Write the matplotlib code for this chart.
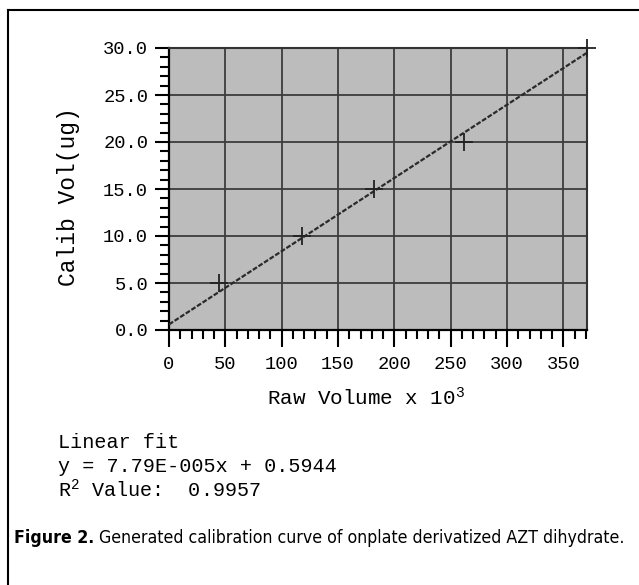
import matplotlib
matplotlib.use("Agg")
import matplotlib.pyplot as plt
from matplotlib.ticker import MultipleLocator, FormatStrFormatter
from matplotlib import font_manager as fm

# calibration standards (raw volume in thousands, calibrated ug)
raw_vol = [44, 118, 182, 262, 371]
calib_vol = [5, 10, 15, 20, 30]

# linear fit as printed on the chart (slope per raw unit)
fit_slope = 7.79e-5
fit_intercept = 0.5944
fit_x = [0, 371]
fit_r2 = 0.9957

x_ticks = [0, 50, 100, 150, 200, 250, 300, 350]
y_ticks = [0, 5, 10, 15, 20, 25, 30]

W, H = 639, 585
plt.rcParams["font.family"] = ["Liberation Mono", "DejaVu Sans Mono"]
plt.rcParams["mathtext.default"] = "regular"

fig = plt.figure(figsize=(W / 100, H / 100), dpi=100)


def fx(px):
    return px / W


def fy(py):
    return 1 - py / H


ax = fig.add_axes([fx(169), fy(330), fx(587) - fx(169), fy(48) - fy(330)])
ax.set_facecolor("#bcbcbc")

fit_y = [fit_slope * 1000 * x + fit_intercept for x in fit_x]
ax.plot(fit_x, fit_y, color="#2a2a2a", linewidth=1.6, linestyle=(0, (2.2, 0.8)), zorder=3)
ax.plot(raw_vol, calib_vol, linestyle="none", marker="+", markersize=13,
        markeredgewidth=1.3, color="#222222", clip_on=False, zorder=4)

ax.set_xlim(0, 371)
ax.set_ylim(0, 30)
ax.set_xticks(x_ticks)
ax.set_yticks(y_ticks)
ax.xaxis.set_minor_locator(MultipleLocator(10))
ax.yaxis.set_minor_locator(MultipleLocator(1))
ax.yaxis.set_major_formatter(FormatStrFormatter("%.1f"))
ax.grid(True, which="major", color="#3c3c3c", linewidth=1.3)
ax.set_axisbelow(True)

ax.tick_params(axis="x", which="major", direction="out", length=12, width=1.5,
               labelsize=13.5, pad=7, color="black")
ax.tick_params(axis="x", which="minor", direction="out", length=6.5, width=1.5, color="black")
ax.tick_params(axis="y", which="major", direction="out", length=10, width=1.5,
               labelsize=13.5, pad=5, color="black")
ax.tick_params(axis="y", which="minor", direction="out", length=6.5, width=1.5, color="black")

for side in ["left", "bottom"]:
    ax.spines[side].set_color("black")
    ax.spines[side].set_linewidth(1.6)
for side in ["top", "right"]:
    ax.spines[side].set_color("#333333")
    ax.spines[side].set_linewidth(1.5)

fig.text(fx(366), fy(398), r"Raw Volume x $\mathregular{10^3}$", fontsize=15,
         ha="center", va="center")
fig.text(fx(69), fy(197), "Calib Vol(ug)", fontsize=16.5, rotation=90,
         ha="center", va="center")

fig.text(fx(58), fy(443), "Linear fit", fontsize=14.5, ha="left", va="center")
fig.text(fx(58), fy(466), f"y = {fit_slope:.2E}x + {fit_intercept}".replace("E-05", "E-005"),
         fontsize=14.5, ha="left", va="center")
fig.text(fx(58), fy(490), r"R$^2$ Value:  " + f"{fit_r2}", fontsize=14.5,
         ha="left", va="center")

# outer frame (top and left edges only)
fig.add_artist(plt.Line2D([fx(8), 1], [fy(10), fy(10)], color="black", linewidth=1.5))
fig.add_artist(plt.Line2D([fx(8), fx(8)], [fy(10), 0], color="black", linewidth=1.5))

# caption in a condensed sans
names = {f.name for f in fm.fontManager.ttflist}
if "Liberation Sans Narrow" in names:
    cap_font, cap_stretch = "Liberation Sans Narrow", "normal"
else:
    cap_font, cap_stretch = "DejaVu Sans", "condensed"
cap_size = 13
renderer = fig.canvas.get_renderer()
t1 = fig.text(fx(14), fy(538), "Figure 2.", fontsize=cap_size, fontweight="bold",
              family=cap_font, fontstretch=cap_stretch, ha="left", va="center")
t2 = fig.text(0, fy(538), " Generated calibration curve of onplate derivatized AZT dihydrate.",
              fontsize=cap_size, family=cap_font, fontstretch=cap_stretch,
              ha="left", va="center")
total = t1.get_window_extent(renderer).width + t2.get_window_extent(renderer).width
cap_size = cap_size * 608 / total
t1.set_fontsize(cap_size)
t2.set_fontsize(cap_size)
x_end = t1.get_window_extent(renderer).x1
t2.set_x(x_end / W)

fig.savefig("out.png", dpi=100)
